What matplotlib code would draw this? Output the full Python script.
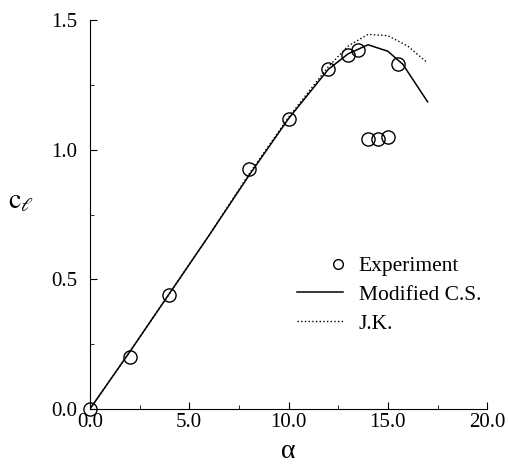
import matplotlib
matplotlib.use('Agg')
import matplotlib.pyplot as plt
from matplotlib.lines import Line2D
from matplotlib.legend_handler import HandlerBase
from matplotlib.ticker import MultipleLocator, FormatStrFormatter

plt.rcParams['font.family'] = ['Liberation Serif', 'DejaVu Serif']
plt.rcParams['mathtext.fontset'] = 'stix'

# experiment
alpha_exp = [0.0, 2.0, 4.0, 8.0, 10.0, 12.0, 13.0, 13.5, 15.5, 14.0, 14.5, 15.0]
cl_exp = [0.0, 0.20, 0.44, 0.925, 1.12, 1.31, 1.365, 1.385, 1.33, 1.04, 1.04, 1.05]

# Modified C.S.
alpha_cs = [0.0, 2.0, 4.0, 6.0, 8.0, 10.0, 12.0, 13.0, 14.0, 15.0, 15.75, 17.0]
cl_cs = [0.0, 0.22, 0.445, 0.67, 0.90, 1.12, 1.31, 1.37, 1.405, 1.38, 1.33, 1.185]

# J.K.
alpha_jk = [0.0, 2.0, 4.0, 6.0, 8.0, 10.0, 12.0, 13.0, 14.0, 15.0, 16.0, 17.0]
cl_jk = [0.0, 0.22, 0.445, 0.67, 0.905, 1.125, 1.32, 1.40, 1.445, 1.44, 1.40, 1.335]


class RightMarker(HandlerBase):
    # marker drawn at the right end of the handle, like the original
    def create_artists(self, legend, orig_handle, xdescent, ydescent,
                       width, height, fontsize, trans):
        m = Line2D([width - xdescent - 4], [(height - ydescent) / 2.0],
                   marker='o', ms=7, mfc='none', mec='black', mew=1.0,
                   linestyle='none', transform=trans)
        return [m]


fig = plt.figure(figsize=(5.08, 4.68), dpi=100)
ax = fig.add_axes([0.177, 0.126, 0.782, 0.831])

exp_line, = ax.plot(alpha_exp, cl_exp, 'o', mfc='none', mec='black', ms=9.5,
                    mew=1.0, label='Experiment', clip_on=False, zorder=3)
ax.plot(alpha_cs, cl_cs, '-', color='black', lw=1.1, label='Modified C.S.')
ax.plot(alpha_jk, cl_jk, ':', color='black', lw=1.0, label='J.K.')

ax.set_xlim(0, 20)
ax.set_ylim(0, 1.5)
ax.spines['top'].set_visible(False)
ax.spines['right'].set_visible(False)
ax.xaxis.set_major_locator(MultipleLocator(5))
ax.xaxis.set_minor_locator(MultipleLocator(2.5))
ax.yaxis.set_major_locator(MultipleLocator(0.5))
ax.yaxis.set_minor_locator(MultipleLocator(0.25))
ax.xaxis.set_major_formatter(FormatStrFormatter('%.1f'))
ax.yaxis.set_major_formatter(FormatStrFormatter('%.1f'))
ax.tick_params(which='both', direction='in', labelsize=15)
ax.tick_params(which='major', length=5)
ax.tick_params(which='minor', length=3)
ax.tick_params(axis='x', pad=3)
ax.tick_params(axis='y', pad=9)

ax.set_xlabel('α', fontsize=20, labelpad=5)
ax.set_ylabel(r'$\mathrm{c}_\ell$', fontsize=20, rotation=0, labelpad=22)

ax.legend(loc='upper left', bbox_to_anchor=(0.50, 0.415), frameon=False,
          fontsize=15.5, handlelength=2.15, handletextpad=0.7, labelspacing=0.4,
          borderaxespad=0, handler_map={exp_line: RightMarker()})

fig.savefig('out.png', dpi=100)
